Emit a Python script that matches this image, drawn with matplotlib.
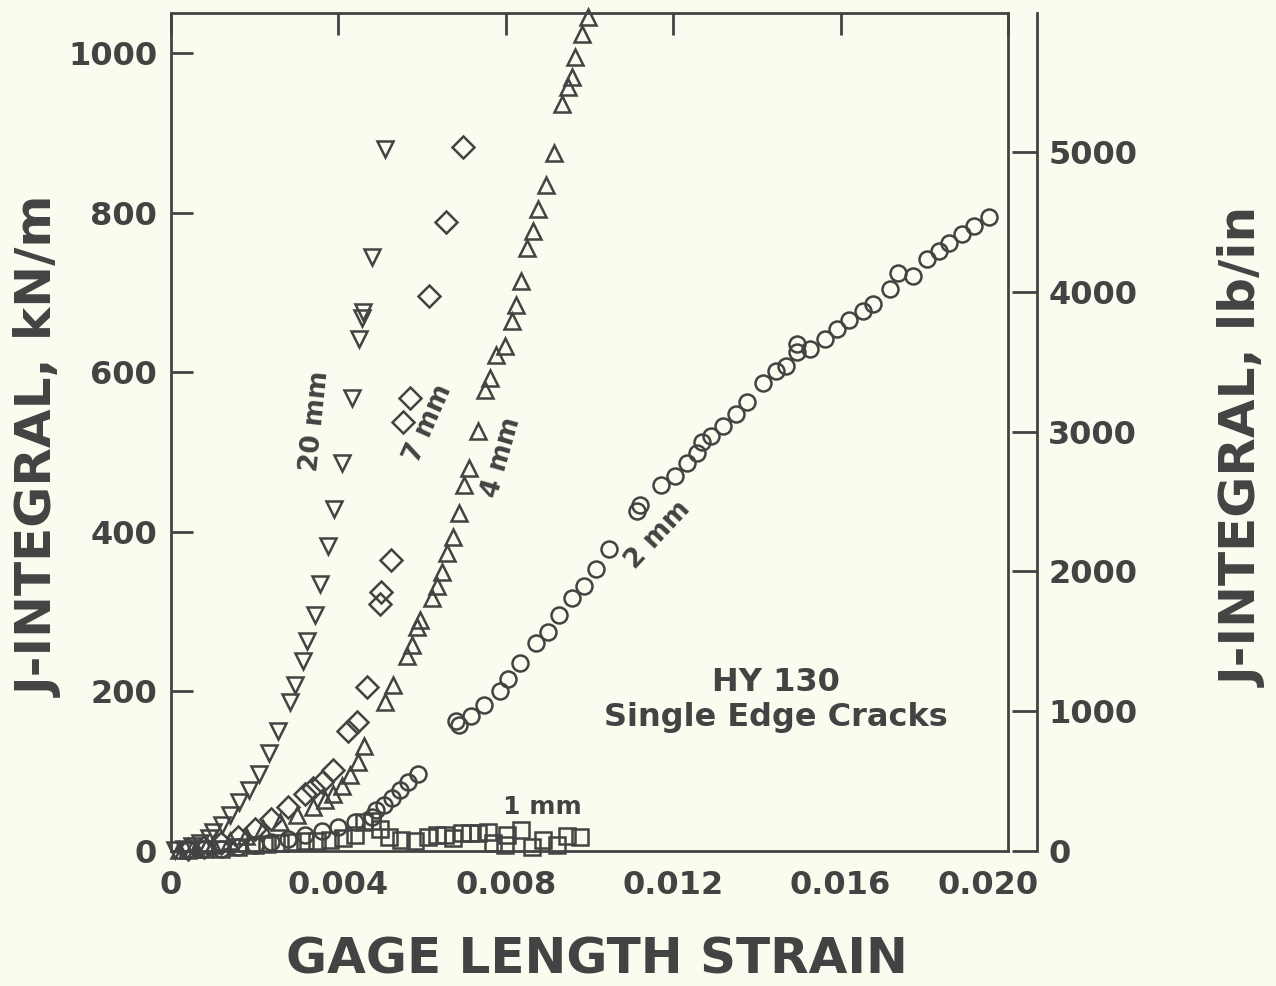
import matplotlib
matplotlib.use('Agg')
from matplotlib import pyplot as plt
from matplotlib.transforms import ScaledTranslation

# 20 mm crack (down triangles)
strain_20 = [0.0001, 0.0003, 0.0005, 0.0007, 0.0009, 0.00101, 0.00121, 0.00141, 0.00163, 0.00187,
             0.00211, 0.00235, 0.00256, 0.00284, 0.00296, 0.00315, 0.00324, 0.00344, 0.00356, 0.00376,
             0.00389, 0.00408, 0.00432, 0.00450, 0.00456, 0.00458, 0.00480, 0.00511]
j_20 = [1, 3, 6, 10, 16, 24, 33, 45, 62, 77,
        96, 123, 150, 187, 208, 238, 263, 296, 334, 382,
        429, 486, 568, 642, 668, 675, 744, 880]

# 7 mm crack (diamonds)
strain_7 = [0.0004, 0.0008, 0.0012, 0.0016, 0.0020, 0.0024, 0.0028, 0.00320, 0.00340, 0.00360,
            0.00388, 0.00424, 0.00444, 0.00468, 0.00499, 0.00501, 0.00525, 0.00554, 0.00571, 0.00617,
            0.00657, 0.00698]
j_7 = [2, 5, 10, 17, 27, 40, 55, 72, 79, 87,
       102, 150, 162, 205, 309, 324, 365, 537, 567, 695,
       788, 882]

# 4 mm crack (up triangles)
strain_4 = [0.0002, 0.0006, 0.0010, 0.0014, 0.0018, 0.0022, 0.0026, 0.0030, 0.0034, 0.00368,
            0.00388, 0.00408, 0.00428, 0.00448, 0.00461, 0.00511, 0.00531, 0.00563, 0.00575, 0.00587,
            0.00595, 0.00623, 0.00636, 0.00647, 0.00660, 0.00673, 0.00687, 0.00700, 0.00711, 0.00734,
            0.00750, 0.00762, 0.00777, 0.00798, 0.00814, 0.00824, 0.00836, 0.00851, 0.00864, 0.00878,
            0.00895, 0.00914, 0.00934, 0.00948, 0.00957, 0.00965, 0.00981, 0.00996]
j_4 = [1, 3, 7, 12, 19, 27, 36, 45, 55, 64,
       72, 81, 95, 112, 131, 187, 208, 244, 258, 281,
       290, 317, 332, 349, 373, 394, 424, 459, 480, 526,
       578, 593, 622, 633, 664, 684, 714, 755, 777, 804,
       834, 875, 936, 957, 970, 995, 1024, 1045]

# 2 mm crack (circles)
strain_2 = [0.0004, 0.0008, 0.0012, 0.0016, 0.0020, 0.0024, 0.0028, 0.0032, 0.0036, 0.0040,
            0.0044, 0.00480, 0.00491, 0.00509, 0.00527, 0.00547, 0.00567, 0.00591, 0.00680, 0.00687,
            0.00718, 0.00747, 0.00785, 0.00806, 0.00834, 0.00872, 0.00902, 0.00928, 0.00957, 0.00987,
            0.01016, 0.01047, 0.01113, 0.01121, 0.01170, 0.01204, 0.01234, 0.01258, 0.01268, 0.01290,
            0.01318, 0.01350, 0.01376, 0.01414, 0.01446, 0.01469, 0.01495, 0.01497, 0.01527, 0.01563,
            0.01591, 0.01621, 0.01653, 0.01678, 0.01717, 0.01738, 0.01772, 0.01807, 0.01834, 0.01860,
            0.01889, 0.01919, 0.01955]
j_2 = [1, 2, 3, 5, 8, 11, 15, 20, 25, 30,
       36, 43, 51, 58, 66, 76, 87, 97, 163, 158,
       169, 183, 200, 215, 235, 261, 275, 296, 317, 332,
       353, 378, 426, 434, 459, 470, 486, 499, 512, 520,
       532, 547, 562, 587, 601, 608, 635, 625, 629, 641,
       654, 665, 677, 685, 704, 724, 721, 742, 752, 762,
       773, 783, 795]

# 1 mm crack (squares)
strain_1 = [0.0004, 0.0008, 0.0012, 0.0016, 0.0020, 0.0023, 0.0026, 0.0029, 0.0032, 0.0035,
            0.0038, 0.0041, 0.0044, 0.0046, 0.0048, 0.0050, 0.0052, 0.0055, 0.00583, 0.00615,
            0.00635, 0.00655, 0.00675, 0.00695, 0.00714, 0.00734, 0.00758, 0.00770, 0.00798, 0.00802,
            0.00836, 0.00862, 0.00890, 0.00922, 0.00946, 0.00977]
j_1 = [1, 2, 3, 5, 7, 9, 10, 11, 12, 13,
       14, 16, 20, 36, 38, 28, 18, 14, 12, 18,
       20, 20, 16, 22, 22, 22, 24, 10, 8, 20,
       26, 5, 14, 8, 19, 18]

x_ticks = [0, 0.004, 0.008, 0.012, 0.016, 0.020]
x_tick_labels = ['0', '0.004', '0.008', '0.012', '0.016', '0.020']
y_ticks = [0, 200, 400, 600, 800, 1000]
lb_ticks = [0, 1000, 2000, 3000, 4000, 5000]
kn_to_lb = 5.71

bg = '#fbfbef'
ink = '#434343'
plt.rcParams['font.family'] = 'DejaVu Sans'
plt.rcParams['font.weight'] = 'bold'

fig = plt.figure(figsize=(12.76, 9.86), dpi=100, facecolor=bg)
ax = fig.add_axes([171 / 1276, 1 - 851 / 986, (1008 - 171) / 1276, (851 - 13) / 986])
ax.set_facecolor(bg)

style = dict(linestyle='none', markerfacecolor='none', markeredgecolor=ink, markeredgewidth=1.8, clip_on=False)
ax.plot(strain_20, j_20, marker='v', markersize=12, **style)
ax.plot(strain_7, j_7, marker='D', markersize=11, **style)
ax.plot(strain_4, j_4, marker='^', markersize=12, **style)
ax.plot(strain_2, j_2, marker='o', markersize=11.5, **style)
ax.plot(strain_1, j_1, marker='s', markersize=11, **style)

ax.set_xlim(0, 0.020)
ax.set_ylim(0, 1050)
ax.set_xticks(x_ticks)
ax.set_xticklabels(x_tick_labels)
ax.set_yticks(y_ticks)
for s in ax.spines.values():
    s.set_linewidth(2)
    s.set_color(ink)
ax.tick_params(axis='x', direction='in', bottom=False, top=True, length=16, width=2, color=ink,
               labelsize=23, labelcolor=ink, pad=14)
ax.tick_params(axis='y', direction='in', left=True, right=True, length=16, width=2, color=ink,
               labelsize=23, labelcolor=ink, pad=10)
# last strain label sits a little left of its tick, clear of the lb/in axis
last = ax.get_xticklabels()[-1]
last.set_transform(last.get_transform() + ScaledTranslation(-0.2, 0, fig.dpi_scale_trans))

ax2 = ax.twinx()
ax2.set_ylim(0, 1050 * kn_to_lb)
ax2.set_yticks(lb_ticks)
for side in ['top', 'left', 'bottom']:
    ax2.spines[side].set_visible(False)
ax2.spines['right'].set_position(('outward', 21))
ax2.spines['right'].set_linewidth(2)
ax2.spines['right'].set_color(ink)
ax2.tick_params(axis='y', direction='in', length=18, width=2, color=ink,
                labelsize=23, labelcolor=ink, pad=8)

# curve labels
ax.text(0.00344, 539, '20 mm', rotation=84, fontsize=19, color=ink, ha='center', va='center')
ax.text(0.00616, 536, '7 mm', rotation=66, fontsize=19, color=ink, ha='center', va='center')
ax.text(0.00789, 493, '4 mm', rotation=74, fontsize=19, color=ink, ha='center', va='center')
ax.text(0.01164, 396, '2 mm', rotation=47, fontsize=19, color=ink, ha='center', va='center')
ax.text(0.00887, 55, '1 mm', fontsize=18, color=ink, ha='center', va='center')
ax.text(0.01446, 189, 'HY 130\nSingle Edge Cracks', fontsize=23, color=ink, ha='center', va='center',
        linespacing=1.15)

fig.text(597 / 1276, 1 - 960 / 986, 'GAGE LENGTH STRAIN', fontsize=36, color=ink, ha='center', va='center')
fig.text(40 / 1276, 1 - 447 / 986, 'J-INTEGRAL, kN/m', fontsize=36, color=ink, ha='center', va='center',
         rotation=90)
fig.text(1244 / 1276, 1 - 447 / 986, 'J-INTEGRAL, lb/in', fontsize=36, color=ink, ha='center', va='center',
         rotation=90)

fig.savefig('out.png', dpi=100, facecolor=bg)
